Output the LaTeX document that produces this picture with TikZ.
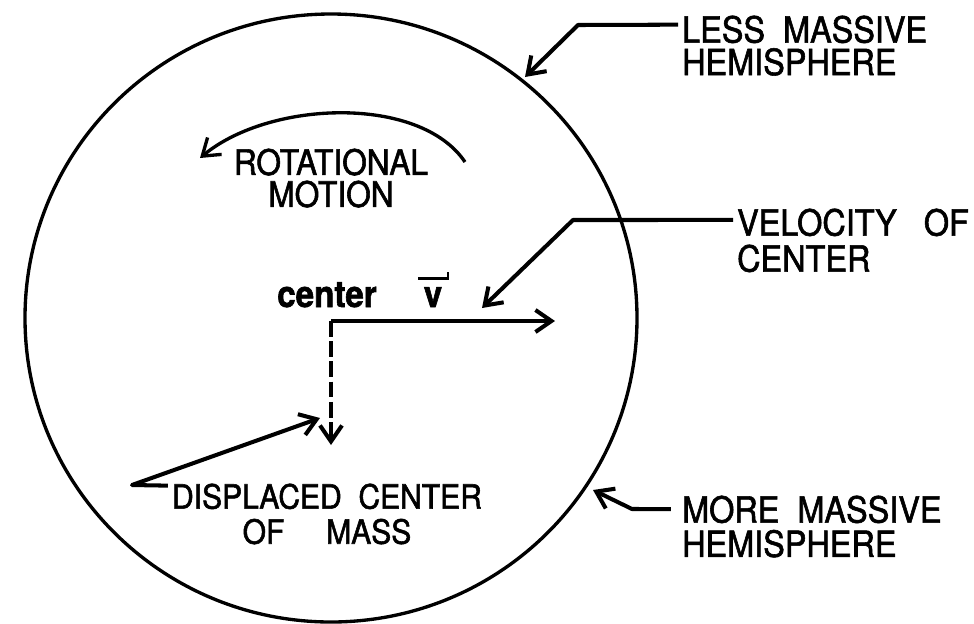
\documentclass[tikz,border=0pt]{standalone}
\usepackage{fontspec}
\setmainfont{TeX Gyre Heros}[FakeStretch=0.9, FakeBold=1.6]
\usetikzlibrary{arrows.meta}
\tikzset{every picture/.style={line width=0.75pt}}
\tikzset{
  rim/.style={line width=1.9pt},
  arw/.style={line width=2.3pt, line join=round, -{Straight Barb[length=3.2mm,width=4.4mm]}},
  lbl/.style={font=\fontsize{20.5}{18.5}\selectfont, inner xsep=2pt, inner ysep=0pt},
}

\begin{document}
\begin{tikzpicture}[x=0.02cm, y=-0.02cm]
    \useasboundingbox (0,0) rectangle (974,623);

    % 球体轮廓
    \draw[rim] (331,318) ellipse [x radius=306, y radius=304];

    % 转动方向
    \node[lbl, align=center, anchor=north, font=\fontsize{20}{18.2}\selectfont] (rot) at (331,148) {ROTATIONAL\\MOTION};
    \coordinate (rotA) at (465,162);
    \coordinate (rotB) at (200,158);
    \draw[arw, line width=1.9pt] (rotA) .. controls (420,95) and (270,100) .. (rotB);

    % 中心与速度
    \node[anchor=base, font=\bfseries\fontsize{21}{20}\selectfont, inner sep=0pt] (ctrlbl) at (327,307) {center};
    \node[anchor=base, font=\bfseries\fontsize{21}{20}\selectfont, inner sep=0pt] (vv) at (433,307) {v};
    \draw[line width=1.6pt] ([shift={(-15,-8)}]vv.north) -- ++(30,0) -- ++(0,-6);
    \coordinate (ctr) at (331,321);
    \coordinate (vend) at (555,321);
    \draw[arw] (ctr) -- (vend);

    % 质心偏移
    \coordinate (cm) at (331,445);
    \draw[arw, dash pattern=on 9pt off 2.5pt] (ctr) -- (cm);
    \node[lbl, align=center, anchor=north, font=\fontsize{19}{20}\selectfont] (dcm) at (327,483) {DISPLACED~~CENTER\\OF\quad\ MASS};
    \coordinate (dcmbend) at (132,485);
    \coordinate (dcmtip) at (320,418);
    \draw[arw] ([yshift=-1.5pt]dcm.north west) -- (dcmbend) -- (dcmtip);

    % 右侧标注
    \node[lbl, align=left, anchor=north west] (less) at (678,15) {LESS~~MASSIVE\\HEMISPHERE};
    \coordinate (lessbend) at (578,25);
    \coordinate (lesstip) at (525,77);
    \draw[arw] ([yshift=-5.5pt]less.north west) -- (lessbend) -- (lesstip);

    \node[lbl, align=left, anchor=north west] (velo) at (733,208) {VELOCITY~~~OF\\[2pt]CENTER};
    \coordinate (velobend) at (573,220);
    \coordinate (velotip) at (482,308);
    \draw[arw] ([yshift=-6.8pt]velo.north west) -- (velobend) -- (velotip);

    \node[lbl, align=left, anchor=north west] (more) at (678,495) {MORE~~MASSIVE\\[1pt]HEMISPHERE};
    \coordinate (morebend) at (632,509);
    \coordinate (moretip) at (593,490);
    \draw[arw] ([yshift=-8pt,xshift=-4pt]more.north west) -- (morebend) -- (moretip);
\end{tikzpicture}
\end{document}
